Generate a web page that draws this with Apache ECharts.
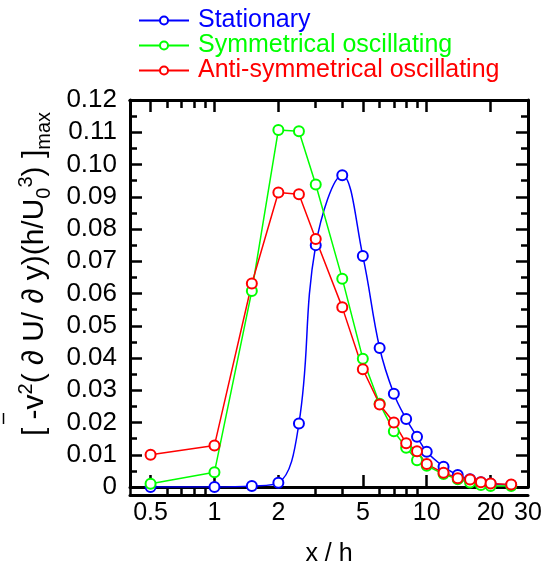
<!DOCTYPE html>
<html>
<head>
<meta charset="utf-8">
<script src="https://cdn.jsdelivr.net/npm/echarts@6/dist/echarts.min.js"></script>
<style>
  html, body { margin: 0; padding: 0; background: #fff; }
  #chart { width: 546px; height: 572px; }
</style>
</head>
<body>
<div id="chart"></div>
<script>
  // x / h stations (same for all three cases)
  var xPos = [0.5, 1, 1.5, 2, 2.5, 3, 4, 5, 6, 7, 8, 9, 10, 12, 14, 16, 18, 20, 25];

  var stationary = [0, 0, 0.0003, 0.0013, 0.0197, 0.0750, 0.0967, 0.0716, 0.0431, 0.0289,
                    0.0211, 0.0156, 0.0109, 0.0063, 0.0037, 0.0024, 0.0015, 0.0010, 0.0006];
  var symmetrical = [0.0010, 0.0046, 0.0608, 0.1107, 0.1103, 0.0938, 0.0646, 0.0398, 0.0258, 0.0173,
                     0.0122, 0.0083, 0.0066, 0.0040, 0.0024, 0.0014, 0.0006, 0.0003, 0.0003];
  var antiSymmetrical = [0.0100, 0.0129, 0.0631, 0.0913, 0.0908, 0.0769, 0.0557, 0.0365, 0.0256, 0.0200,
                         0.0136, 0.0111, 0.0071, 0.0044, 0.0027, 0.0023, 0.0015, 0.0011, 0.0008];

  var xMajorTicks = [0.5, 1, 2, 5, 10, 20, 30];
  // 0.4 sits on the left frame; the first custom value sometimes gets dropped
  var xMinorTicks = [0.4, 0.6, 0.7, 0.8, 0.9, 3, 4, 6, 7, 8, 9];

  var font = "'Liberation Sans', Arial, sans-serif";
  var axisLine = { show: true, onZero: false, lineStyle: { color: '#000', width: 3 } };

  function pairs(ys) {
    return xPos.map(function (x, i) { return [x, ys[i]]; });
  }

  function xAxisDef(pos, grid, ticks, len, labels) {
    return {
      type: 'log', logBase: 10, gridIndex: grid, position: pos,
      min: 0.4, max: 30,
      axisLine: axisLine,
      splitLine: { show: false },
      minorTick: { show: false },
      axisTick: { show: true, inside: true, length: len, customValues: ticks,
                  lineStyle: { color: '#000', width: 2.5 } },
      axisLabel: { show: labels, customValues: ticks, margin: 14, color: '#000',
                   fontSize: 25, fontFamily: font,
                   formatter: function (v) { return String(+v.toPrecision(3)); } },
      name: labels ? 'x / h' : '',
      nameLocation: 'middle', nameGap: 55,
      nameTextStyle: { fontSize: 25, fontFamily: font, color: '#000' }
    };
  }

  function yAxisDef(pos, grid, labels, show) {
    return {
      type: 'value', gridIndex: grid, position: pos, show: show,
      min: 0, max: 0.12, interval: 0.01,
      axisLine: axisLine,
      splitLine: { show: false },
      axisTick: { show: true, inside: true, length: 12, lineStyle: { color: '#000', width: 2.5 } },
      minorTick: { show: true, splitNumber: 2, length: 7, lineStyle: { color: '#000', width: 2.5 } },
      axisLabel: { show: labels, margin: 13, color: '#000', fontSize: 26, fontFamily: font,
                   formatter: function (v) { return v === 0 ? '0' : v.toFixed(2); } }
    };
  }

  function lineSeries(name, color, ys, smooth) {
    return {
      name: name, type: 'line', data: pairs(ys),
      xAxisIndex: 0, yAxisIndex: 0,
      smooth: smooth,
      symbol: 'emptyCircle', symbolSize: 10,
      lineStyle: { color: color, width: 1.5 },
      itemStyle: { color: color, borderColor: color, borderWidth: 1.5 }
    };
  }

  var chart = echarts.init(document.getElementById('chart'));
  chart.setOption({
    animation: false,
    backgroundColor: '#fff',
    grid: [
      { left: 130, right: 18, top: 100, bottom: 77 },
      { left: 130, right: 18, top: 100, bottom: 77 }
    ],
    legend: {
      orient: 'vertical', left: 133, top: 3, itemGap: 0,
      itemWidth: 50, itemHeight: 10,
      textStyle: { fontSize: 25, fontFamily: font, lineHeight: 25, padding: [0, 0, 0, 4] },
      data: [
        { name: 'Stationary', textStyle: { color: '#0000ff' } },
        { name: 'Symmetrical oscillating', textStyle: { color: '#00ff00' } },
        { name: 'Anti-symmetrical oscillating', textStyle: { color: '#ff0000' } }
      ]
    },
    xAxis: [
      xAxisDef('bottom', 0, xMajorTicks, 12, true),
      xAxisDef('top', 0, xMajorTicks, 12, false),
      xAxisDef('bottom', 1, xMinorTicks, 8, false),
      xAxisDef('top', 1, xMinorTicks, 8, false)
    ],
    yAxis: [
      yAxisDef('left', 0, true, true),
      yAxisDef('right', 0, false, true),
      yAxisDef('left', 1, false, false),
      yAxisDef('right', 1, false, false)
    ],
    graphic: [
      {
        type: 'text', x: 35, y: 274, rotation: Math.PI / 2,
        style: {
          text: '{a|[ -v}{sup|2}{a|( ∂ U/ ∂ y)(h/U}{sub|0}{sup|3}{a|) ]}{sub|max}',
          align: 'center', verticalAlign: 'middle',
          rich: {
            a: { fontSize: 30, fontFamily: font, fill: '#000', lineHeight: 38 },
            sup: { fontSize: 20, fontFamily: font, fill: '#000', verticalAlign: 'top', lineHeight: 20 },
            sub: { fontSize: 20, fontFamily: font, fill: '#000', verticalAlign: 'bottom', lineHeight: 20 }
          }
        }
      },
      {
        type: 'line', shape: { x1: 3.5, y1: 413, x2: 3.5, y2: 424 },
        style: { stroke: '#000', lineWidth: 1.5 }
      }
    ],
    series: [
      lineSeries('Stationary', '#0000ff', stationary, 0.4),
      lineSeries('Symmetrical oscillating', '#00ff00', symmetrical, false),
      lineSeries('Anti-symmetrical oscillating', '#ff0000', antiSymmetrical, false)
    ]
  });
</script>
</body>
</html>
